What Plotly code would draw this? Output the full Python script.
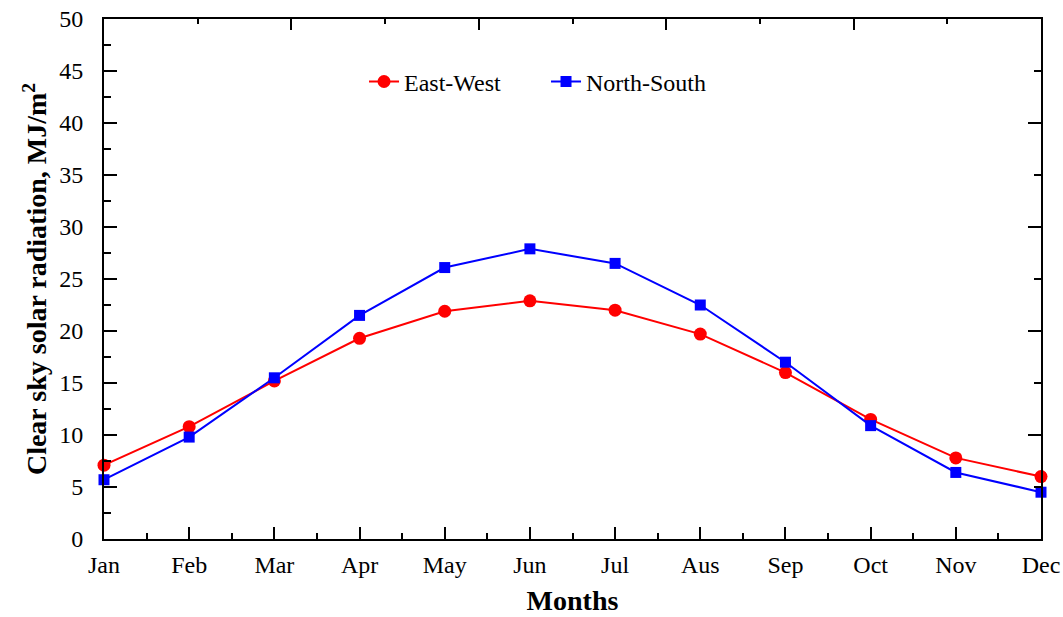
import plotly.graph_objects as go

months = ["Jan", "Feb", "Mar", "Apr", "May", "Jun", "Jul", "Aus", "Sep", "Oct", "Nov", "Dec"]
east_west = [7.1, 10.8, 15.2, 19.3, 21.9, 22.9, 22.0, 19.7, 16.0, 11.5, 7.8, 6.0]
north_south = [5.7, 9.8, 15.5, 21.5, 26.1, 27.9, 26.5, 22.5, 17.0, 10.9, 6.4, 4.5]
series_names = ["East-West", "North-South"]
y_ticks = [0, 5, 10, 15, 20, 25, 30, 35, 40, 45, 50]

font_family = "Times New Roman, Liberation Serif, serif"
idx = list(range(len(months)))

fig = go.Figure()
fig.add_trace(go.Scatter(
    x=idx, y=east_west, name=series_names[0], mode="lines+markers",
    line=dict(color="#ff0000", width=2),
    marker=dict(symbol="circle", size=13, color="#ff0000"),
    cliponaxis=False,
))
fig.add_trace(go.Scatter(
    x=idx, y=north_south, name=series_names[1], mode="lines+markers",
    line=dict(color="#0000ff", width=2),
    marker=dict(symbol="square", size=11, color="#0000ff"),
    cliponaxis=False,
))
# helper trace so the top/right mirror axes are drawn
fig.add_trace(go.Scatter(x=[None], y=[None], xaxis="x2", yaxis="y2", showlegend=False, hoverinfo="skip"))

fig.update_layout(
    width=1063, height=617,
    margin=dict(l=104, r=22, t=19, b=78),
    paper_bgcolor="white", plot_bgcolor="white",
    font=dict(family=font_family, color="black", size=24),
    showlegend=True,
    legend=dict(
        orientation="h", x=0.2775, y=0.879, xanchor="left", yanchor="middle",
        font=dict(family=font_family, size=24, color="black"),
        bgcolor="rgba(0,0,0,0)", entrywidth=137, entrywidthmode="pixels",
    ),
    xaxis=dict(
        range=[0, 11], tickmode="array", tickvals=idx, ticktext=months,
        ticks="inside", ticklen=12, tickwidth=2, tickcolor="black",
        showline=True, linewidth=2, linecolor="black", mirror=True,
        showgrid=False, zeroline=False, automargin=False,
        minor=dict(ticks="inside", ticklen=6, tickwidth=2, tickcolor="black", dtick=0.5, tick0=0, showgrid=False),
        ticklabelstandoff=3,
        tickfont=dict(family=font_family, size=24),
        title=dict(text="<b>Months</b>", font=dict(family=font_family, size=28), standoff=14),
    ),
    yaxis=dict(
        range=[0, 50], tickmode="array", tickvals=y_ticks,
        ticks="inside", ticklen=13, tickwidth=2, tickcolor="black",
        showline=True, linewidth=2, linecolor="black", mirror=True,
        showgrid=False, zeroline=False, automargin=False,
        minor=dict(ticks="inside", ticklen=7, tickwidth=2, tickcolor="black", dtick=2.5, tick0=0, showgrid=False),
        ticklabelstandoff=14,
        tickfont=dict(family=font_family, size=24),
        title=dict(text="<b>Clear sky solar radiation, MJ/m<sup>2</sup></b>", font=dict(family=font_family, size=28), standoff=4),
    ),
    xaxis2=dict(
        overlaying="x", side="top", range=[0, 10], dtick=2, tick0=0, automargin=False,
        showticklabels=False, ticks="inside", ticklen=11, tickwidth=2, tickcolor="black",
        minor=dict(ticks="inside", ticklen=5, tickwidth=2, tickcolor="black", dtick=1, tick0=0),
        showgrid=False, zeroline=False, showline=False,
    ),
    yaxis2=dict(
        overlaying="y", side="right", range=[0, 50], dtick=10, tick0=0, automargin=False,
        showticklabels=False, ticks="inside", ticklen=13, tickwidth=2, tickcolor="black",
        minor=dict(ticks="inside", ticklen=7, tickwidth=2, tickcolor="black", dtick=5, tick0=0),
        showgrid=False, zeroline=False, showline=False,
    ),
)

fig.write_html("out.html")
